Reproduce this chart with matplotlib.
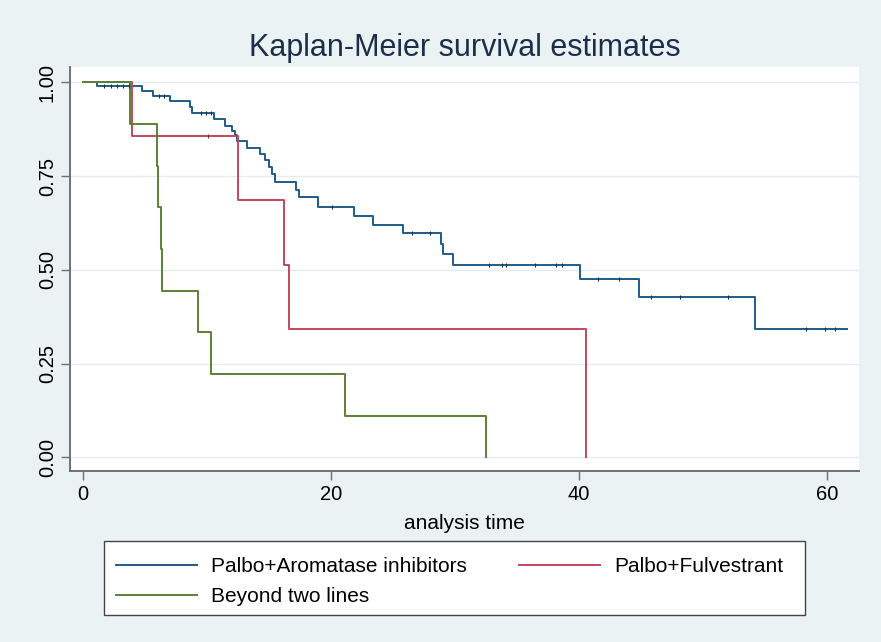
import matplotlib.pyplot as plt
from matplotlib.patches import Rectangle

plt.rcParams['font.family'] = ['Liberation Sans', 'DejaVu Sans']

# step curves: time of each drop and survival after it
ai_times = [0, 1.1, 4.75, 5.6, 7.0, 8.65, 8.8, 10.55, 11.45, 12.0, 12.2, 12.4, 13.2,
            14.25, 14.65, 14.95, 15.2, 15.45, 17.2, 17.4, 18.95, 21.85, 23.35, 25.8,
            28.85, 29.0, 29.85, 40.05, 44.8, 54.2, 61.6]
ai_surv = [1.0, 0.989, 0.977, 0.964, 0.949, 0.933, 0.918, 0.901, 0.884, 0.871, 0.859,
           0.844, 0.826, 0.810, 0.793, 0.774, 0.756, 0.735, 0.714, 0.693, 0.668, 0.643,
           0.619, 0.597, 0.570, 0.541, 0.514, 0.475, 0.427, 0.341, 0.341]
ai_censor = [1.7, 2.2, 2.7, 3.2, 3.7, 6.1, 6.5, 9.5, 9.9, 10.3, 20.1, 26.5, 28.0,
             32.75, 33.8, 34.1, 36.4, 38.1, 38.6, 41.5, 43.2, 45.8, 48.1, 52.0,
             58.3, 59.8, 60.6]

fulv_times = [0, 3.93, 12.45, 16.2, 16.6, 40.55]
fulv_surv = [1.0, 0.857, 0.686, 0.514, 0.343, 0.0]
fulv_censor = [10.1]

beyond_times = [0, 3.77, 5.97, 6.02, 6.27, 6.37, 9.28, 10.28, 21.1, 32.45]
beyond_surv = [1.0, 0.889, 0.778, 0.667, 0.556, 0.444, 0.333, 0.222, 0.111, 0.0]

yticks = [0.0, 0.25, 0.5, 0.75, 1.0]
xticks = [0, 20, 40, 60]

bg = '#EAF2F4'
c_ai = '#1f5b88'
c_fulv = '#c4485a'
c_beyond = '#5b8034'


def surv_at(times, surv, t):
    val = surv[0]
    for tt, s in zip(times, surv):
        if tt <= t:
            val = s
    return val


fig = plt.figure(figsize=(8.81, 6.42), dpi=100, facecolor=bg)
ax = fig.add_axes([70 / 881, 1 - 470.7 / 642, 789.3 / 881, 404 / 642])
ax.set_facecolor('white')

for y in yticks:
    ax.axhline(y, color='#E2EDF0', lw=1.0, zorder=0)

l_ai, = ax.step(ai_times, ai_surv, where='post', color=c_ai, lw=1.4)
l_fulv, = ax.step(fulv_times, fulv_surv, where='post', color=c_fulv, lw=1.4)
l_beyond, = ax.step(beyond_times, beyond_surv, where='post', color=c_beyond, lw=1.4)

ax.plot(ai_censor, [surv_at(ai_times, ai_surv, t) for t in ai_censor], ls='none',
        marker='|', ms=2.5, mew=0.8, color='#1b2f42')
ax.plot(fulv_censor, [surv_at(fulv_times, fulv_surv, t) for t in fulv_censor], ls='none',
        marker='|', ms=2.5, mew=0.8, color='#7a2a30')

ax.set_xlim(-1.07, 62.6)
ax.set_ylim(-0.0357, 1.0416)
ax.set_xticks(xticks)
ax.set_yticks(yticks)
ax.set_yticklabels(['%.2f' % v for v in yticks], rotation=90, va='center')
ax.tick_params(axis='both', length=6.5, width=1.0, color='#707070', labelsize=14.5,
               direction='out')
ax.tick_params(axis='y', pad=3)
ax.tick_params(axis='x', pad=4)
for side in ['top', 'right']:
    ax.spines[side].set_visible(False)
for side in ['left', 'bottom']:
    ax.spines[side].set_color('#707070')
    ax.spines[side].set_linewidth(1.4)

ax.set_xlabel('analysis time', fontsize=15, labelpad=7)
fig.text(465 / 881, 1 - 48 / 642, 'Kaplan-Meier survival estimates', fontsize=22,
         color='#1c2e4a', ha='center', va='center')

# legend box drawn by hand, entries from two frameless legends
fig.add_artist(Rectangle((104 / 881, 1 - 615 / 642), 701 / 881, 74 / 642,
                         transform=fig.transFigure, facecolor='white',
                         edgecolor='#444444', lw=1.0))
leg1 = fig.legend([l_ai, l_beyond], ['Palbo+Aromatase inhibitors', 'Beyond two lines'],
                  loc='upper left', bbox_to_anchor=(116 / 881, 1 - 557 / 642),
                  frameon=False, fontsize=15, handlelength=3.9, handletextpad=0.67,
                  borderpad=0, borderaxespad=0, labelspacing=0.55)
leg2 = fig.legend([l_fulv], ['Palbo+Fulvestrant'],
                  loc='upper left', bbox_to_anchor=(519 / 881, 1 - 557 / 642),
                  frameon=False, fontsize=15, handlelength=3.9, handletextpad=0.67,
                  borderpad=0, borderaxespad=0)

fig.savefig('out.png', dpi=100, facecolor=bg)
